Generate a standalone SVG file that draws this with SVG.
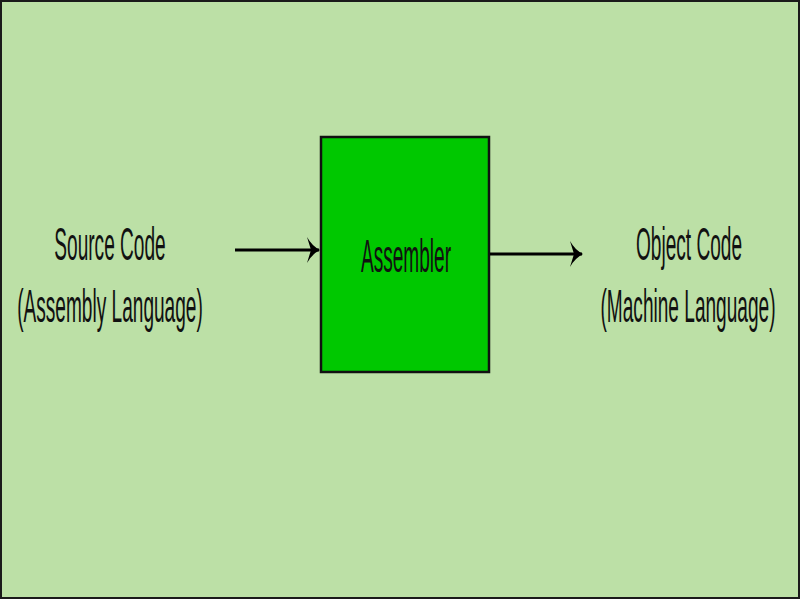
<svg xmlns="http://www.w3.org/2000/svg" width="800" height="600" viewBox="0 0 800 600">
<style>
.lbl{font-family:"Liberation Sans",Arial,sans-serif;font-size:46px;fill:#111;text-anchor:middle;}
.conn{stroke:#000;stroke-width:3;fill:none;}
</style>
<defs>
<marker id="ah" viewBox="0 0 14 26" refX="13" refY="13" markerWidth="14" markerHeight="26" markerUnits="userSpaceOnUse" orient="auto">
<path d="M1,0 Q6,9 14,13 Q6,17 1,26 L5,13 Z" fill="#000"/>
</marker>
</defs>
<rect x="1" y="1" width="798" height="597" fill="#BCE0A6" stroke="#1a1a1a" stroke-width="2"/>
<g id="source">
<text class="lbl" transform="translate(110,260) scale(0.415,1)">Source Code</text>
<text class="lbl" transform="translate(110,322) scale(0.415,1)">(Assembly Language)</text>
</g>
<g id="assembler">
<rect x="321" y="137" width="168" height="235" fill="#00C800" stroke="#111" stroke-width="2.5"/>
<text class="lbl" transform="translate(406,272) scale(0.415,1)">Assembler</text>
</g>
<g id="object">
<text class="lbl" transform="translate(689,260) scale(0.415,1)">Object Code</text>
<text class="lbl" transform="translate(688,322) scale(0.415,1)">(Machine Language)</text>
</g>
<g id="connectors">
<line class="conn" x1="235" y1="250" x2="319" y2="250" marker-end="url(#ah)"/>
<line class="conn" x1="490" y1="254" x2="582" y2="254" marker-end="url(#ah)"/>
</g>
</svg>
